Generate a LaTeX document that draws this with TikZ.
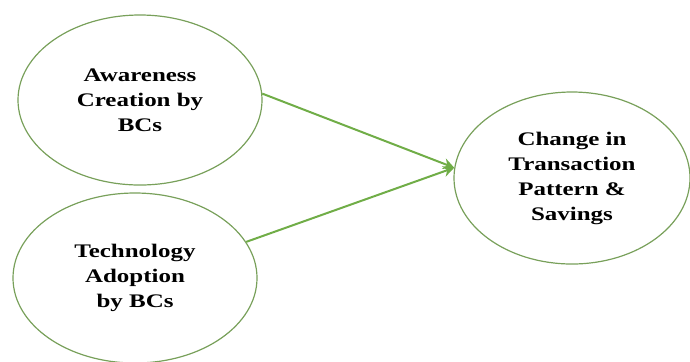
\documentclass[tikz,border=0pt]{standalone}
\usepackage{fontspec}
\setmainfont{Liberation Serif}[FakeStretch=1.3]
\usetikzlibrary{shapes.geometric,arrows.meta}
\definecolor{ogreen}{RGB}{112,173,71}
\definecolor{egreen}{RGB}{120,160,90}
\tikzset{
  concept/.style={ellipse, draw=egreen, line width=0.6pt, inner sep=0pt,
    minimum width=122pt, minimum height=85pt, align=center,
    font=\fontsize{9.6}{12.5}\selectfont\bfseries, text=black},
  link/.style={draw=ogreen, line width=1pt, -{Stealth[length=5.5pt,width=5.5pt]}}
}
\begin{document}
\begin{tikzpicture}[x=0.5pt,y=-0.5pt]
\useasboundingbox (0,0) rectangle (690,361);
\node[concept] (e1) at (140,100) {Awareness\\Creation by\\BCs};
\node[concept] (e2) at (135,278) {Technology\\Adoption\\by BCs};
\node[concept, minimum width=118pt, minimum height=86pt] (e3) at (572,178) {Change in\\Transaction\\Pattern \&\\Savings};
\draw[link] (e1.3) -- (e3.175);
\draw[link] (e2.18) -- (e3.175);
\end{tikzpicture}
\end{document}
